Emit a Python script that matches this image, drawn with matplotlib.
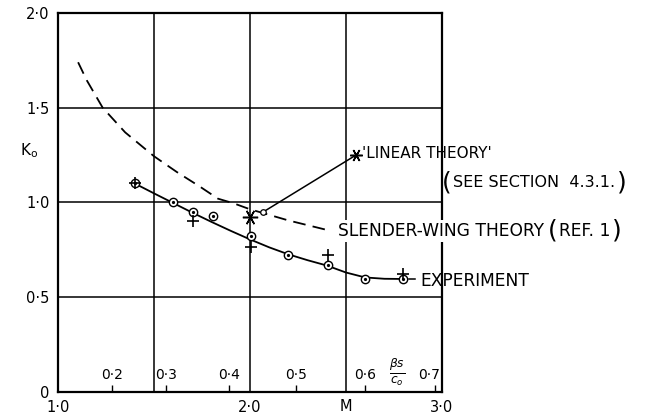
import matplotlib.pyplot as plt

plt.rcParams['font.family'] = 'DejaVu Sans'
plt.rcParams['mathtext.fontset'] = 'dejavusans'

# measured K0 against Mach number
exp_circle_M = [1.40, 1.60, 1.705, 1.805, 2.005, 2.20, 2.405, 2.60, 2.795]
exp_circle_K = [1.10, 1.00, 0.948, 0.930, 0.822, 0.722, 0.672, 0.596, 0.595]
exp_cross_M = [1.40, 1.705, 2.005, 2.405, 2.795]
exp_cross_K = [1.10, 0.902, 0.767, 0.723, 0.622]

# faired curve through the experiment
exp_curve_M = [1.40, 1.50, 1.60, 1.70, 1.80, 1.90, 2.00, 2.10, 2.20, 2.30,
               2.40, 2.50, 2.60, 2.70, 2.795]
exp_curve_K = [1.10, 1.048, 0.997, 0.946, 0.897, 0.850, 0.805, 0.763, 0.726,
               0.695, 0.667, 0.630, 0.604, 0.597, 0.596]

# slender-wing theory (ref. 1)
slender_M = [1.105, 1.15, 1.233, 1.35, 1.50, 1.62, 1.74, 1.833, 1.913, 2.00,
             2.20, 2.40]
slender_K = [1.74, 1.645, 1.50, 1.37, 1.244, 1.16, 1.083, 1.02, 0.996, 0.964,
             0.905, 0.855]

# linear theory point
linear_M = [2.0]
linear_K = [0.925]

x_ticks = [1.0, 1.5, 2.0, 2.5, 3.0]
x_tick_labels = ['1·0', '', '2·0', '', '3·0']
y_ticks = [0, 0.5, 1.0, 1.5, 2.0]
y_tick_labels = ['0', '0·5', '1·0', '1·5', '2·0']

# beta*s/c0 scale marked along the M axis
beta_ticks_M = [1.284, 1.561, 1.89, 2.24, 2.60, 2.962]
beta_tick_labels = ['0·2', '0·3', '0·4', '0·5', '0·6', '0·7']

asterisk = (6, 2, 30)

fig = plt.figure(figsize=(6.51, 4.2), dpi=100)
ax = fig.add_axes([0.089, 0.067, 0.590, 0.902])
ax.set_xlim(1.0, 3.0)
ax.set_ylim(0, 2.0)

ax.set_xticks(x_ticks)
ax.set_xticklabels(x_tick_labels)
ax.set_yticks(y_ticks)
ax.set_yticklabels(y_tick_labels)
ax.tick_params(which='major', length=0, labelsize=10.5, pad=6)
ax.grid(True, color='black', lw=1.1)
ax.set_axisbelow(True)
for sp in ax.spines.values():
    sp.set_linewidth(1.6)

ax.set_xticks(beta_ticks_M, minor=True)
ax.tick_params(which='minor', direction='in', length=5, width=1)
for m, lab in zip(beta_ticks_M, beta_tick_labels):
    ha = 'right' if lab == '0·7' else 'center'
    ax.text(m + (0.03 if ha == 'right' else 0), 0.088, lab, ha=ha,
            va='center', fontsize=10)
ax.text(2.766, 0.105, r'$\frac{\beta s}{c_o}$', ha='center', va='center',
        fontsize=12.5)

ax.set_xlabel('M', fontsize=10.5)
ax.xaxis.set_label_coords(0.75, -0.018)
ax.set_ylabel('K$_\\mathrm{o}$', fontsize=11, rotation=0, va='center')
ax.yaxis.set_label_coords(-0.075, 0.638)

# curves
ax.plot(slender_M, slender_K, color='black', lw=1.3, ls=(0, (7, 4)))
ax.plot(exp_curve_M, exp_curve_K, color='black', lw=1.3)

# experiment points
ax.plot(exp_circle_M, exp_circle_K, ls='none', marker='o', ms=6,
        mfc='white', mec='black', mew=1.0, zorder=4)
ax.plot(exp_circle_M, exp_circle_K, ls='none', marker='o', ms=1.3,
        color='black', zorder=5)
ax.plot(exp_cross_M, exp_cross_K, ls='none', marker='+', ms=9,
        color='black', mew=1.2, zorder=5)
ax.plot(linear_M, linear_K, ls='none', marker=asterisk, ms=11,
        color='black', mew=1.1, zorder=5)

# linear theory label with leader
lab_M, lab_K = 2.552, 1.25
ax.plot([2.066, lab_M], [0.948, lab_K], color='black', lw=1.1)
ax.plot([2.066], [0.948], ls='none', marker='o', ms=4, mfc='white',
        mec='black', mew=0.9, zorder=5)
ax.plot([lab_M], [lab_K], ls='none', marker=asterisk, ms=9,
        color='black', mew=1.1, clip_on=False, zorder=5)
ax.text(2.585, 1.258, "'LINEAR THEORY'", ha='left', va='center',
        fontsize=11)
p1 = ax.text(3.0, 1.103, '(', ha='left', va='center', fontsize=18)
t1 = ax.annotate('SEE SECTION  4.3.1.', xy=(1, 0.5), xycoords=p1,
                 xytext=(1, 0), textcoords='offset points',
                 ha='left', va='center', fontsize=11.5)
ax.annotate(')', xy=(1, 0.5), xycoords=t1, xytext=(1, 0),
            textcoords='offset points', ha='left', va='center', fontsize=18)

# slender-wing label
t2 = ax.text(2.458, 0.851, 'SLENDER-WING THEORY', ha='left', va='center',
             fontsize=12.3,
             bbox=dict(facecolor='white', edgecolor='none', pad=1.5))
p2 = ax.annotate('(', xy=(1, 0.5), xycoords=t2, xytext=(3, 0),
                 textcoords='offset points', ha='left', va='center',
                 fontsize=18)
t3 = ax.annotate('REF. 1', xy=(1, 0.5), xycoords=p2, xytext=(1, 0),
                 textcoords='offset points', ha='left', va='center',
                 fontsize=12.3)
ax.annotate(')', xy=(1, 0.5), xycoords=t3, xytext=(1, 0),
            textcoords='offset points', ha='left', va='center', fontsize=18)

# experiment label
ax.plot([2.83, 2.86], [0.596, 0.596], color='black', lw=1.1, clip_on=False)
ax.text(2.885, 0.585, 'EXPERIMENT', ha='left', va='center', fontsize=12.3)

fig.savefig('out.png', dpi=100)
